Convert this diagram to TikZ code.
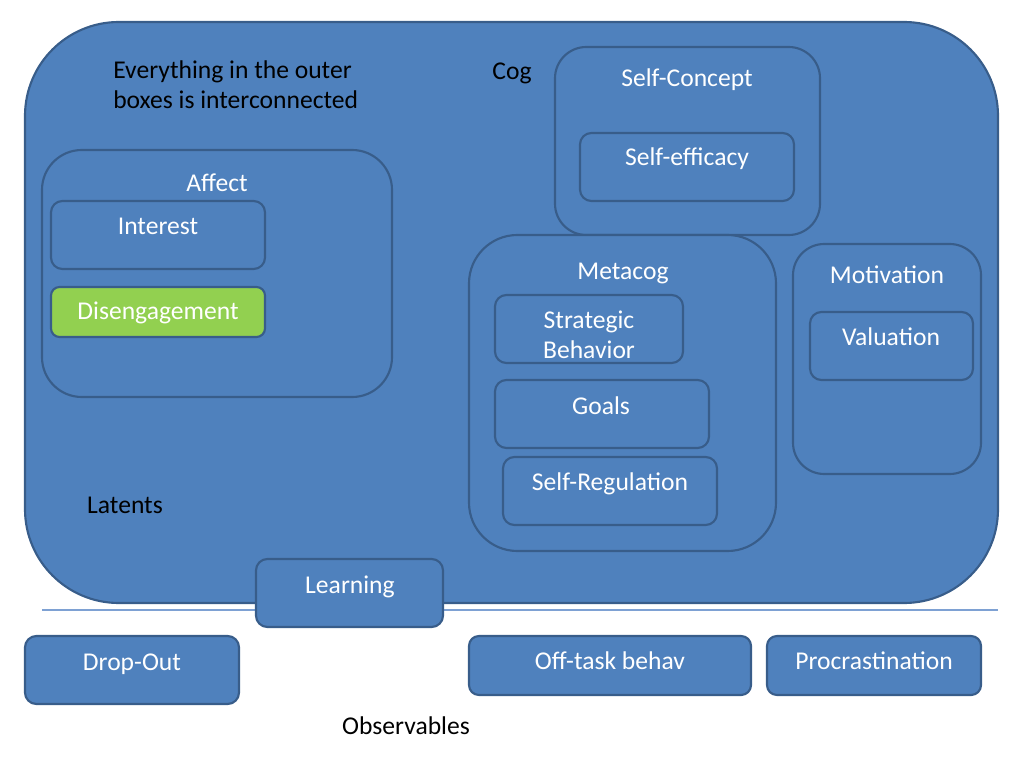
\documentclass[tikz,border=0pt]{standalone}
\usepackage{fontspec}
\setmainfont{Carlito}
\usetikzlibrary{fit}
\definecolor{blu}{HTML}{4F81BD}
\definecolor{bdr}{HTML}{385D8A}
\definecolor{grn}{HTML}{92D050}
\definecolor{sepc}{HTML}{7EA1D3}
\begin{document}
\begin{tikzpicture}[x=0.703125pt, y=-0.703125pt,
  box/.style={draw=bdr, fill=blu, line width=1.5pt, inner sep=0pt},
  gbox/.style={box, fill=grn},
  lbl/.style={text=white, font=\fontsize{18}{21}\selectfont, inner sep=0pt, anchor=base},
  blk/.style={text=black, font=\fontsize{18}{21}\selectfont, inner sep=0pt, anchor=base},
  seprule/.style={draw=sepc, line width=0.9pt}]
\useasboundingbox (0,0) rectangle (1024,768);
% outer latent box
\node[box, rounded corners=66pt, fit={(25,22)(998,603)}] (latents) {};
\coordinate (sepL) at (42,610);
\coordinate (sepR) at (998,610);
\draw[seprule] (sepL) -- (sepR);
% Cog group
\node[box, rounded corners=22pt, fit={(555,47)(820,235)}] (selfconcept) {};
\node[box, rounded corners=8pt, fit={(580,133)(794,201)}] (selfefficacy) {};
% Affect group
\node[box, rounded corners=28pt, fit={(42,150)(392,397)}] (affect) {};
\node[box, rounded corners=8pt, fit={(51,201)(265,269)}] (interest) {};
\node[gbox, rounded corners=6pt, fit={(51,287)(265,337)}] (diseng) {};
% Metacog group
\node[box, rounded corners=34pt, fit={(469,235)(776,551)}] (metacog) {};
\node[box, rounded corners=8pt, fit={(495,295)(683,363)}] (strategic) {};
\node[box, rounded corners=8pt, fit={(495,380)(709,448)}] (goals) {};
\node[box, rounded corners=8pt, fit={(503,457)(717,525)}] (selfreg) {};
% Motivation group
\node[box, rounded corners=22pt, fit={(793,244)(981,474)}] (motivation) {};
\node[box, rounded corners=8pt, fit={(810,312)(973,380)}] (valuation) {};
% Learning
\node[box, rounded corners=8pt, fit={(256,559)(443,627)}] (learning) {};
% Observables
\node[box, rounded corners=8pt, fit={(25,636)(239,704)}] (dropout) {};
\node[box, rounded corners=7pt, fit={(469,636)(751,695)}] (offtask) {};
\node[box, rounded corners=7pt, fit={(767,636)(981,695)}] (procrast) {};
% texts
\node[blk, anchor=west, align=left] (note) at (113,85) {Everything in the outer\\boxes is interconnected};
\node[blk] (cogl) at (512,80) {Cog};
\node[lbl] (selfconceptl) at (687,87) {Self-Concept};
\node[lbl] (selfefficacyl) at (687,166) {Self-efficacy};
\node[lbl] (affectl) at (217,192) {Affect};
\node[lbl] (interestl) at (158,235) {Interest};
\node[lbl] (disengl) at (158,319) {Disengagement};
\node[lbl] (metacogl) at (623,280) {Metacog};
\node[lbl, anchor=center, align=center] (strategicl) at (589,335) {Strategic\\Behavior};
\node[lbl] (goalsl) at (601,414) {Goals};
\node[lbl] (selfregl) at (610,490) {Self-Regulation};
\node[lbl] (motivationl) at (887,283) {Motivation};
\node[lbl] (valuationl) at (891,346) {Valuation};
\node[blk] (latentsl) at (125,513) {Latents};
\node[lbl] (learningl) at (350,593) {Learning};
\node[lbl] (dropoutl) at (132,670) {Drop-Out};
\node[lbl] (offtaskl) at (610,669) {Off-task behav};
\node[lbl] (procrastl) at (874,669) {Procrastination};
\node[blk] (observl) at (406,734) {Observables};
\end{tikzpicture}
\end{document}
